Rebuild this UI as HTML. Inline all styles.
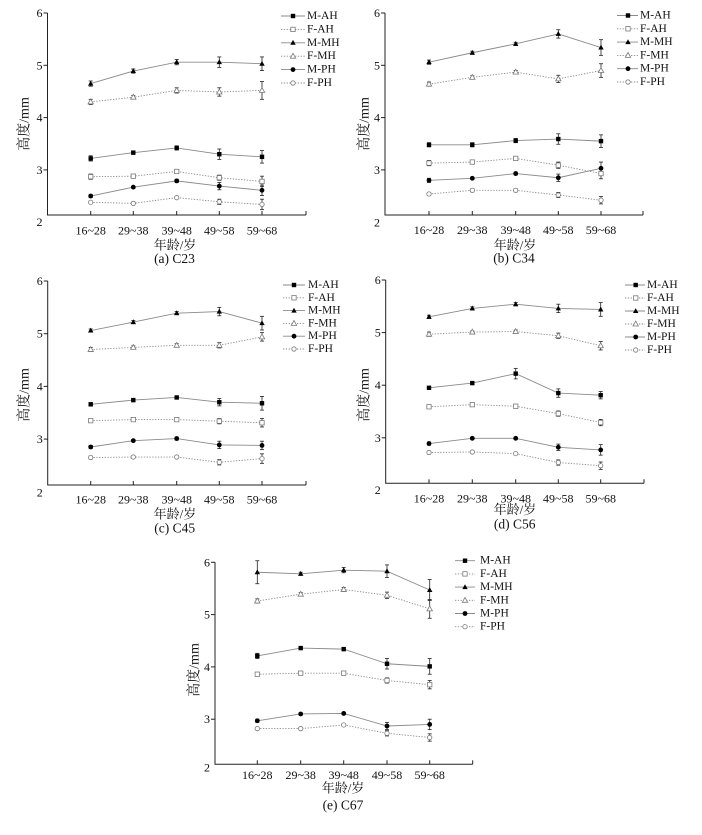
<!DOCTYPE html>
<html>
<head>
<meta charset="utf-8">
<style>
html,body{margin:0;padding:0;background:#fff;}
svg{display:block;}
text{fill:#111;font-family:"Liberation Serif","Noto Serif CJK SC",serif;}
.yt{font-size:12px;text-anchor:end;dominant-baseline:central;}
.xt{font-size:12px;text-anchor:middle;dominant-baseline:central;}
.lg{font-size:11.5px;dominant-baseline:central;}
.yl{font-size:14px;text-anchor:middle;dominant-baseline:central;}
.xl{font-size:13px;text-anchor:middle;dominant-baseline:central;}
.cp{font-size:13.5px;text-anchor:middle;dominant-baseline:central;}
</style>
</head>
<body>
<svg id="svg" width="702" height="835" viewBox="0 0 702 835" xmlns="http://www.w3.org/2000/svg" font-family="Liberation Serif, Noto Serif CJK SC, serif">
<rect width="702" height="835" fill="#fff"/>

<!-- Panel a -->
<g id="pa" transform="translate(47.5,13)">
<text class="yt" x="-5" y="0">6</text>
<text class="yt" x="-5" y="52.3">5</text>
<text class="yt" x="-5" y="104.6">4</text>
<text class="yt" x="-5" y="156.9">3</text>
<text class="yt" x="-5" y="209">2</text>
<text class="xt" x="43.2" y="217.7">16~28</text>
<text class="xt" x="85.8" y="217.7">29~38</text>
<text class="xt" x="129.2" y="217.7">39~48</text>
<text class="xt" x="171.8" y="217.7">49~58</text>
<text class="xt" x="214.5" y="217.7">59~68</text>
<text class="lg" x="259.5" y="3">M-AH</text>
<text class="lg" x="259.5" y="16.4">F-AH</text>
<text class="lg" x="259.5" y="29.8">M-MH</text>
<text class="lg" x="259.5" y="43.2">F-MH</text>
<text class="lg" x="259.5" y="56.6">M-PH</text>
<text class="lg" x="259.5" y="70">F-PH</text>
<text class="yl" transform="translate(-22.5,111) rotate(-90)">高度/mm</text>
<text class="xl" x="127.5" y="232">年龄/岁</text>
<text class="cp" x="127" y="245.3">(a) C23</text>
</g>

<!-- Panel b -->
<g id="pb" transform="translate(385,13)">
<text class="yt" x="-5" y="0">6</text>
<text class="yt" x="-5" y="52.3">5</text>
<text class="yt" x="-5" y="104.6">4</text>
<text class="yt" x="-5" y="156.9">3</text>
<text class="yt" x="-5" y="209.7">2</text>
<text class="xt" x="44" y="217">16~28</text>
<text class="xt" x="87.3" y="217">29~38</text>
<text class="xt" x="130.7" y="217">39~48</text>
<text class="xt" x="173.3" y="217">49~58</text>
<text class="xt" x="216" y="217">59~68</text>
<text class="lg" x="255" y="2.5">M-AH</text>
<text class="lg" x="255" y="15.8">F-AH</text>
<text class="lg" x="255" y="29.1">M-MH</text>
<text class="lg" x="255" y="42.4">F-MH</text>
<text class="lg" x="255" y="55.7">M-PH</text>
<text class="lg" x="255" y="69">F-PH</text>
<text class="yl" transform="translate(-20,111) rotate(-90)">高度/mm</text>
<text class="xl" x="130" y="232">年龄/岁</text>
<text class="cp" x="129" y="245">(b) C34</text>
</g>

<!-- Panel c -->
<g id="pc" transform="translate(47.7,281)">
<text class="yt" x="-5" y="0">6</text>
<text class="yt" x="-5" y="52.7">5</text>
<text class="yt" x="-5" y="105.4">4</text>
<text class="yt" x="-5" y="158.1">3</text>
<text class="yt" x="-5" y="211.7">2</text>
<text class="xt" x="43" y="218.3">16~28</text>
<text class="xt" x="85.6" y="218.3">29~38</text>
<text class="xt" x="129" y="218.3">39~48</text>
<text class="xt" x="171.6" y="218.3">49~58</text>
<text class="xt" x="214.3" y="218.3">59~68</text>
<text class="lg" x="260.3" y="4">M-AH</text>
<text class="lg" x="260.3" y="16.8">F-AH</text>
<text class="lg" x="260.3" y="29.6">M-MH</text>
<text class="lg" x="260.3" y="42.4">F-MH</text>
<text class="lg" x="260.3" y="55.2">M-PH</text>
<text class="lg" x="260.3" y="68">F-PH</text>
<text class="yl" transform="translate(-22.7,114) rotate(-90)">高度/mm</text>
<text class="xl" x="127.3" y="233">年龄/岁</text>
<text class="cp" x="127" y="247">(c) C45</text>
</g>

<!-- Panel d -->
<g id="pd" transform="translate(385.7,280)">
<text class="yt" x="-5" y="0">6</text>
<text class="yt" x="-5" y="52.6">5</text>
<text class="yt" x="-5" y="105.2">4</text>
<text class="yt" x="-5" y="157.8">3</text>
<text class="yt" x="-5" y="210">2</text>
<text class="xt" x="43.3" y="218.3">16~28</text>
<text class="xt" x="86.6" y="218.3">29~38</text>
<text class="xt" x="130" y="218.3">39~48</text>
<text class="xt" x="172.6" y="218.3">49~58</text>
<text class="xt" x="215" y="218.3">59~68</text>
<text class="lg" x="261.3" y="5">M-AH</text>
<text class="lg" x="261.3" y="18">F-AH</text>
<text class="lg" x="261.3" y="31">M-MH</text>
<text class="lg" x="261.3" y="44">F-MH</text>
<text class="lg" x="261.3" y="57">M-PH</text>
<text class="lg" x="261.3" y="70">F-PH</text>
<text class="yl" transform="translate(-20.7,115) rotate(-90)">高度/mm</text>
<text class="xl" x="129.3" y="229.5">年龄/岁</text>
<text class="cp" x="129" y="244">(d) C56</text>
</g>

<!-- Panel e -->
<g id="pe" transform="translate(215,562.3)">
<text class="yt" x="-5" y="0">6</text>
<text class="yt" x="-5" y="52.3">5</text>
<text class="yt" x="-5" y="104.6">4</text>
<text class="yt" x="-5" y="156.9">3</text>
<text class="yt" x="-5" y="205">2</text>
<text class="xt" x="42.3" y="212.7">16~28</text>
<text class="xt" x="85.7" y="212.7">29~38</text>
<text class="xt" x="128.7" y="212.7">39~48</text>
<text class="xt" x="172" y="212.7">49~58</text>
<text class="xt" x="214.7" y="212.7">59~68</text>
<text class="lg" x="265" y="-1.6">M-AH</text>
<text class="lg" x="265" y="11.6">F-AH</text>
<text class="lg" x="265" y="24.8">M-MH</text>
<text class="lg" x="265" y="38">F-MH</text>
<text class="lg" x="265" y="51.2">M-PH</text>
<text class="lg" x="265" y="64.4">F-PH</text>
<text class="yl" transform="translate(-20,107.7) rotate(-90)">高度/mm</text>
<text class="xl" x="128" y="225.7">年龄/岁</text>
<text class="cp" x="128" y="242.7">(e) C67</text>
</g>
</svg>

<script>
(function(){
var NS='http://www.w3.org/2000/svg';
function el(g,tag,a){var e=document.createElementNS(NS,tag);for(var k in a)e.setAttribute(k,a[k]);g.appendChild(e);return e;}
var P={
 pa:{u:52.3,xa:202,xe:258.5,cats:[43.2,85.8,129.2,171.8,214.5],leg:[233.5,245.5,257.5],ly:3,ld:13.4,
  d:[[[3.22,3.33,3.42,3.30,3.25],[0.05,0.03,0.04,0.1,0.12]],
     [[2.87,2.88,2.97,2.85,2.78],[0.05,0.02,0.03,0.05,0.1]],
     [[4.65,4.89,5.06,5.06,5.03],[0.05,0.04,0.05,0.1,0.13]],
     [[4.30,4.39,4.52,4.49,4.52],[0.05,0.03,0.05,0.08,0.17]],
     [[2.50,2.67,2.79,2.69,2.61],[0.03,0.02,0.03,0.07,0.1]],
     [[2.38,2.36,2.47,2.39,2.34],[0.02,0.02,0.02,0.05,0.1]]]},
 pb:{u:52.3,xa:202,xe:258,cats:[44,87.3,130.7,173.3,216],leg:[232,243,253],ly:2.5,ld:13.3,
  d:[[[3.48,3.48,3.56,3.59,3.55],[0.04,0.04,0.04,0.1,0.12]],
     [[3.13,3.15,3.22,3.09,2.93],[0.05,0.03,0.03,0.06,0.1]],
     [[5.06,5.24,5.41,5.60,5.34],[0.04,0.03,0.03,0.08,0.15]],
     [[4.64,4.77,4.87,4.74,4.90],[0.04,0.03,0.03,0.07,0.13]],
     [[2.80,2.84,2.93,2.85,3.03],[0.04,0.02,0.03,0.07,0.12]],
     [[2.54,2.61,2.61,2.52,2.42],[0.03,0.03,0.03,0.05,0.07]]]},
 pc:{u:52.7,xa:204,xe:258.3,cats:[43,85.6,129,171.6,214.3],leg:[235.3,246.3,257.3],ly:4,ld:12.8,
  d:[[[3.66,3.74,3.79,3.70,3.68],[0.03,0.03,0.03,0.07,0.13]],
     [[3.35,3.37,3.37,3.34,3.31],[0.03,0.02,0.02,0.05,0.08]],
     [[5.06,5.22,5.39,5.42,5.20],[0.03,0.03,0.03,0.08,0.13]],
     [[4.70,4.74,4.78,4.78,4.94],[0.04,0.03,0.03,0.05,0.08]],
     [[2.85,2.97,3.01,2.89,2.88],[0.03,0.02,0.03,0.07,0.08]],
     [[2.65,2.66,2.66,2.56,2.63],[0.03,0.02,0.02,0.05,0.09]]]},
 pd:{u:52.6,xa:203.3,xe:258.3,cats:[43.3,86.6,130,172.6,215],leg:[239.3,250,259.3],ly:5,ld:13,
  d:[[[3.95,4.04,4.22,3.85,3.81],[0.03,0.02,0.1,0.08,0.07]],
     [[3.59,3.63,3.60,3.46,3.29],[0.03,0.02,0.02,0.05,0.06]],
     [[5.30,5.46,5.54,5.46,5.44],[0.03,0.03,0.03,0.08,0.13]],
     [[4.97,5.01,5.02,4.94,4.75],[0.04,0.02,0.03,0.05,0.08]],
     [[2.89,2.99,2.99,2.82,2.77],[0.03,0.02,0.02,0.06,0.1]],
     [[2.72,2.73,2.70,2.53,2.47],[0.03,0.02,0.02,0.05,0.07]]]},
 pe:{u:52.3,xa:202,xe:257.7,cats:[42.3,85.7,128.7,172,214.7],leg:[240,250,260],ly:-1.6,ld:13.2,
  d:[[[4.21,4.36,4.34,4.06,4.01],[0.05,0.03,0.03,0.1,0.15]],
     [[3.86,3.88,3.88,3.74,3.66],[0.03,0.02,0.02,0.05,0.08]],
     [[5.81,5.78,5.85,5.83,5.47],[0.22,0.03,0.05,0.12,0.2]],
     [[5.26,5.39,5.48,5.37,5.11],[0.04,0.03,0.04,0.06,0.18]],
     [[2.97,3.10,3.11,2.87,2.90],[0.03,0.02,0.02,0.07,0.1]],
     [[2.82,2.82,2.89,2.73,2.65],[0.02,0.02,0.02,0.05,0.07]]]}
};
var LC='#8a8a8a', OC='#7a7a7a';
function mk(g,s,x,y){
 var open=(s%2===1);
 var fill=open?'#fff':'#000', st=open?OC:'none';
 var t=Math.floor(s/2);
 if(t===0){el(g,'rect',{x:x-2.2,y:y-2.2,width:4.4,height:4.4,fill:fill,stroke:st,'stroke-width':0.8});}
 else if(t===1){el(g,'polygon',{points:(x)+','+(y-2.9)+' '+(x-2.7)+','+(y+2)+' '+(x+2.7)+','+(y+2),fill:fill,stroke:st,'stroke-width':0.8});}
 else{el(g,'circle',{cx:x,cy:y,r:open?2.2:2.4,fill:fill,stroke:st,'stroke-width':0.8});}
}
function line(g,s,pts){
 var a={points:pts,fill:'none',stroke:LC,'stroke-width':0.9};
 if(s%2===1)a['stroke-dasharray']='1.3 1.5';
 el(g,'polyline',a);
}
for(var id in P){
 var p=P[id], g=document.getElementById(id);
 var Y=(function(u){return function(v){return (6-v)*u;};})(p.u);
 el(g,'path',{d:'M0,0 V'+p.xa+' H'+p.xe,fill:'none',stroke:'#222','stroke-width':1});
 for(var v=3;v<=6;v++)el(g,'line',{x1:-4,x2:0,y1:Y(v),y2:Y(v),stroke:'#222','stroke-width':1});
 var xs=p.cats.concat([p.xe]);
 for(var i=0;i<xs.length;i++)el(g,'line',{x1:xs[i],x2:xs[i],y1:p.xa,y2:p.xa-4,stroke:'#222','stroke-width':1});
 var s,k;
 for(s=0;s<6;s++){
  var pts=[];
  for(k=0;k<5;k++)pts.push(p.cats[k]+','+Y(p.d[s][0][k]).toFixed(2));
  line(g,s,pts.join(' '));
 }
 for(s=0;s<6;s++){
  for(k=0;k<5;k++){
   var x=p.cats[k], v0=p.d[s][0][k], e=p.d[s][1][k];
   var y1=Y(v0+e), y2=Y(v0-e);
   el(g,'line',{x1:x,x2:x,y1:y1,y2:y2,stroke:'#222','stroke-width':0.8});
   el(g,'line',{x1:x-2,x2:x+2,y1:y1,y2:y1,stroke:'#222','stroke-width':0.8});
   el(g,'line',{x1:x-2,x2:x+2,y1:y2,y2:y2,stroke:'#222','stroke-width':0.8});
  }
 }
 for(s=0;s<6;s++){
  for(k=0;k<5;k++)mk(g,s,p.cats[k],Y(p.d[s][0][k]));
 }
 for(s=0;s<6;s++){
  var ly=p.ly+s*p.ld;
  line(g,s,p.leg[0]+','+ly+' '+p.leg[2]+','+ly);
  mk(g,s,p.leg[1],ly);
 }
}
})();
</script>
</body>
</html>
